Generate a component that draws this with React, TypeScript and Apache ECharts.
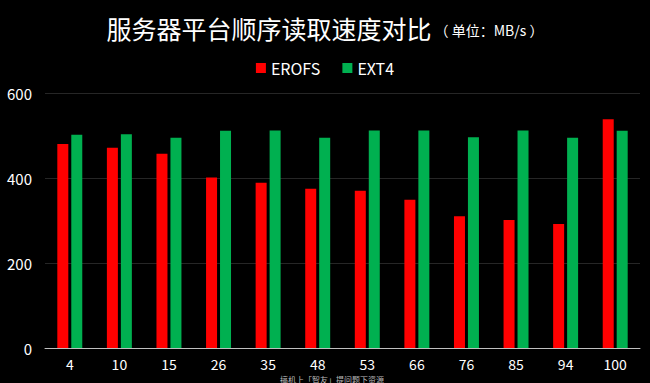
import React, { useEffect, useRef } from "react";
import * as echarts from "echarts";

const categories = ["4", "10", "15", "26", "35", "48", "53", "66", "76", "85", "94", "100"];
const erofs = [480, 471, 457, 401, 389, 375, 370, 349, 310, 301, 292, 538];
const ext4 = [502, 503, 495, 511, 512, 495, 512, 512, 496, 512, 495, 511];
const yTicks = [0, 200, 400, 600];

const FONT = "'Noto Sans CJK SC', 'Noto Sans', sans-serif";

export default function App() {
  const ref = useRef<HTMLDivElement>(null);
  useEffect(() => {
    document.body.style.margin = "0";
    const chart = echarts.init(ref.current!, null, { renderer: "svg" });
    chart.setOption({
      animation: false,
      backgroundColor: "#000000",
      textStyle: { fontFamily: FONT },
      title: {
        text: "{a|服务器平台顺序读取速度对比}{b| （ 单位：MB/s ）}",
        left: "center",
        top: 10,
        textStyle: {
          fontWeight: "normal",
          rich: {
            a: { fontSize: 25, color: "#ffffff", fontFamily: FONT, fontWeight: "normal" },
            b: { fontSize: 14, color: "#ffffff", fontFamily: FONT, fontWeight: "normal", padding: [4, 0, 0, 0] },
          },
        },
      },
      legend: {
        top: 55,
        left: "center",
        itemWidth: 10,
        itemHeight: 10,
        itemGap: 22,
        icon: "rect",
        textStyle: { color: "#ffffff", fontSize: 16, fontFamily: FONT },
        data: ["EROFS", "EXT4"],
      },
      grid: { left: 45, right: 10, top: 93, bottom: 35 },
      xAxis: {
        type: "category",
        data: categories,
        axisLine: { lineStyle: { color: "#bfbfbf", width: 1 } },
        axisTick: { show: false },
        axisLabel: { color: "#ffffff", fontSize: 14, lineHeight: 14, margin: 9, fontFamily: FONT },
      },
      yAxis: {
        type: "value",
        min: yTicks[0],
        max: yTicks[yTicks.length - 1],
        interval: 200,
        axisLine: { show: false },
        axisTick: { show: false },
        axisLabel: { color: "#ffffff", fontSize: 15, margin: 13, fontFamily: FONT },
        splitLine: { lineStyle: { color: "#262626", width: 1 } },
      },
      series: [
        {
          name: "EROFS",
          type: "bar",
          data: erofs,
          barWidth: 11,
          barGap: "27%",
          itemStyle: { color: "#ff0000" },
        },
        {
          name: "EXT4",
          type: "bar",
          data: ext4,
          barWidth: 11,
          barGap: "27%",
          itemStyle: { color: "#00b050" },
        },
      ],
      graphic: [
        {
          type: "text",
          left: 280,
          top: 375,
          style: {
            text: "搞机上「智友」提问题下资源",
            fill: "#bbbbbb",
            fontSize: 8,
            lineHeight: 8,
            fontFamily: FONT,
          },
        },
      ],
    });
    return () => chart.dispose();
  }, []);
  return <div ref={ref} style={{ position: "fixed", left: 0, top: 0, width: 650, height: 383 }} />;
}
